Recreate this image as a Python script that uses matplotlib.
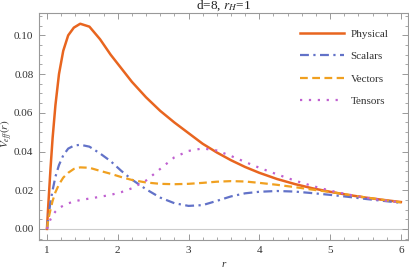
import matplotlib
matplotlib.use("Agg")
from matplotlib import pyplot as plt
from matplotlib.ticker import MultipleLocator

# values
r = [1.0, 1.02, 1.05, 1.08, 1.12, 1.17, 1.23, 1.3, 1.38, 1.47, 1.6, 1.75, 1.9,
     2.05, 2.2, 2.4, 2.6, 2.8, 3.0, 3.2, 3.4, 3.6, 3.8, 4.0, 4.25, 4.5, 4.75,
     5.0, 5.25, 5.5, 5.75, 6.0]
physical = [0.0, 0.013, 0.031, 0.047, 0.064, 0.080, 0.092, 0.100, 0.104, 0.106,
            0.1045, 0.098, 0.090, 0.083, 0.076, 0.068, 0.061, 0.055, 0.0495,
            0.044, 0.0395, 0.0355, 0.032, 0.029, 0.0258, 0.0232, 0.021, 0.0192,
            0.0176, 0.0162, 0.015, 0.0139]
scalars = [0.0, 0.006, 0.014, 0.020, 0.027, 0.033, 0.038, 0.0415, 0.043, 0.0435,
           0.0425, 0.039, 0.035, 0.030, 0.0255, 0.0205, 0.0162, 0.0133, 0.0119,
           0.0123, 0.0145, 0.0168, 0.0184, 0.0192, 0.0196, 0.0193, 0.0185,
           0.0176, 0.0166, 0.0155, 0.0145, 0.0135]
vectors = [0.0, 0.005, 0.010, 0.0145, 0.019, 0.023, 0.0265, 0.029, 0.031, 0.0318,
           0.0316, 0.030, 0.0285, 0.0268, 0.0253, 0.0240, 0.0233, 0.0231, 0.0233,
           0.0238, 0.0244, 0.0247, 0.0245, 0.0238, 0.0228, 0.0216, 0.0203,
           0.0191, 0.0177, 0.0163, 0.015, 0.0137]
tensors = [0.0, 0.002, 0.005, 0.007, 0.009, 0.0108, 0.012, 0.0132, 0.0142, 0.0149,
           0.0157, 0.0166, 0.0176, 0.019, 0.021, 0.025, 0.031, 0.037, 0.0403,
           0.0416, 0.0405, 0.0377, 0.0346, 0.0316, 0.0282, 0.0250, 0.0222,
           0.0198, 0.0178, 0.0161, 0.0148, 0.0137]

plt.rcParams['font.family'] = ['Liberation Serif', 'DejaVu Serif']
plt.rcParams['mathtext.fontset'] = 'stix'

fig = plt.figure(figsize=(4.1, 2.73), dpi=100)
ax = fig.add_axes([0.095, 0.121, 0.9, 0.831])

ax.axhline(0, color='#cccccc', lw=0.8, zorder=0)
ax.plot(r, physical, color='#E8651F', lw=1.8, label='Physical')
ax.plot(r, scalars, color='#6272C8', lw=1.6, dashes=(4, 2, 1, 2),
        label='Scalars')
ax.plot(r, vectors, color='#F0A020', lw=1.6, dashes=(3.5, 2), label='Vectors')
ax.plot(r, tensors, color='#C060D0', lw=1.6, dashes=(1, 3), label='Tensors')

ax.set_xlim(0.887, 6.10)
ax.set_ylim(-0.0057, 0.1115)
ax.xaxis.set_major_locator(MultipleLocator(1))
ax.xaxis.set_minor_locator(MultipleLocator(0.2))
ax.yaxis.set_major_locator(MultipleLocator(0.02))
ax.yaxis.set_minor_locator(MultipleLocator(0.005))
ax.yaxis.set_major_formatter(plt.FuncFormatter(lambda v, p: '%.2f' % v))

for s in ax.spines.values():
    s.set_color('#999999')
    s.set_linewidth(0.8)
ax.tick_params(which='both', direction='in', top=True, right=True,
               color='#999999', labelsize=8, labelcolor='#333333', pad=4)
ax.tick_params(which='major', length=4, width=0.7)
ax.tick_params(which='minor', length=2, width=0.6)

ax.set_title('d=8, $r_H$=1', fontsize=9.5, pad=1.5, color='#222222')
ax.set_xlabel('r', fontsize=8, style='italic', color='#333333')
ax.set_ylabel('$V_{eff}(r)$', fontsize=8, color='#333333')
ax.yaxis.set_label_coords(-0.064, 0.47)

ax.legend(loc='upper right', frameon=False, fontsize=8, handlelength=4,
          handletextpad=0.6, labelspacing=1.15,
          bbox_to_anchor=(0.975, 0.975), labelcolor='#333333')

fig.savefig('out.png', dpi=100)
